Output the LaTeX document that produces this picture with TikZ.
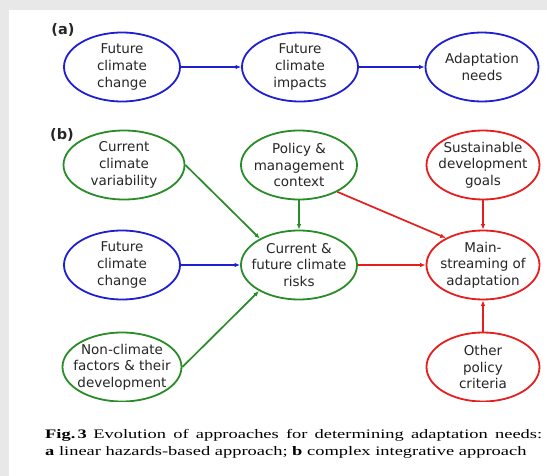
\documentclass[tikz,border=0pt]{standalone}
\usepackage{fontspec}
\setmainfont{Liberation Serif}
\newfontfamily\bubblefont{DejaVu Sans}
\newfontfamily\capfont{Liberation Serif}[FakeStretch=1.42]
\usetikzlibrary{shapes.geometric,arrows.meta}
\definecolor{ablue}{RGB}{30,30,210}
\definecolor{agreen}{RGB}{40,140,40}
\definecolor{ared}{RGB}{230,30,30}
\definecolor{frame}{RGB}{232,232,232}

\begin{document}
\begin{tikzpicture}[x=1pt, y=-1pt,
    bubble/.style={draw, ellipse, line width=1.8pt, inner xsep=-25pt, inner ysep=-20pt,
        minimum width=116pt, minimum height=69pt, align=center, text=black!85,
        font=\bubblefont\fontsize{13.5}{16.7}\selectfont},
    link/.style={line width=1.7pt, -{Latex[length=5.5pt,width=4.5pt]}},
    tag/.style={font=\bubblefont\bfseries\fontsize{14.5}{16}\selectfont, text=black!85}]
    \fill[frame] (0,0) rectangle (547,476);
    \fill[white] (9,10) rectangle (547,476);

    \begin{scope}
    \clip (0,0) rectangle (547,401);
    \node[tag] (taga) at (63,30) {(a)};
    \node[tag] (tagb) at (62,135) {(b)};

    \node[bubble, draw=ablue] (a1) at (122,67) {Future\\climate\\change};
    \node[bubble, draw=ablue] (a2) at (300,67) {Future\\climate\\impacts};
    \node[bubble, draw=ablue, minimum width=113pt] (a3) at (482,67) {Adaptation\\needs};

    \node[bubble, draw=agreen, minimum width=121pt] (cv) at (124,165) {Current\\climate\\variability};
    \node[bubble, draw=agreen] (pm) at (299,165) {Policy \&\\management\\context};
    \node[bubble, draw=ared, minimum width=113pt] (sd) at (483,165) {Sustainable\\development\\goals};
    \node[bubble, draw=ablue] (fc) at (122,265) {Future\\climate\\change};
    \node[bubble, draw=agreen] (cr) at (299,265) {Current \&\\future climate\\risks};
    \node[bubble, draw=ared, minimum width=113pt] (ms) at (483,265) {Main-\\streaming of\\adaptation};
    \node[bubble, draw=agreen, minimum width=119pt] (nc) at (122,367) {Non-climate\\factors \& their\\development};
    \node[bubble, draw=ared, minimum width=113pt] (op) at (483,367) {Other\\policy\\criteria};

    \draw[link, ablue] (a1) -- (a2);
    \draw[link, ablue] (a2) -- (a3);
    \draw[link, agreen] (cv.east) -- (cr.146);
    \draw[link, agreen] (pm) -- (cr);
    \draw[link, agreen] (nc.east) -- (cr.213);
    \draw[link, ablue] (fc) -- (cr);
    \draw[link, ared] (cr) -- (ms);
    \draw[link, ared] (pm.-35) -- (ms.144);
    \draw[link, ared] (sd) -- (ms);
    \draw[link, ared] (op) -- (ms);
    \end{scope}

    \node (caption) [anchor=north west, inner sep=0pt, text width=497pt, align=justify,
        font=\capfont\fontsize{13}{16.5}\selectfont] at (45,429.5)
        {\textbf{Fig.\,3}\enspace Evolution of approaches for determining adaptation needs:\linebreak
        \textbf{a} linear hazards-based approach; \textbf{b} complex integrative approach};
\end{tikzpicture}
\end{document}
